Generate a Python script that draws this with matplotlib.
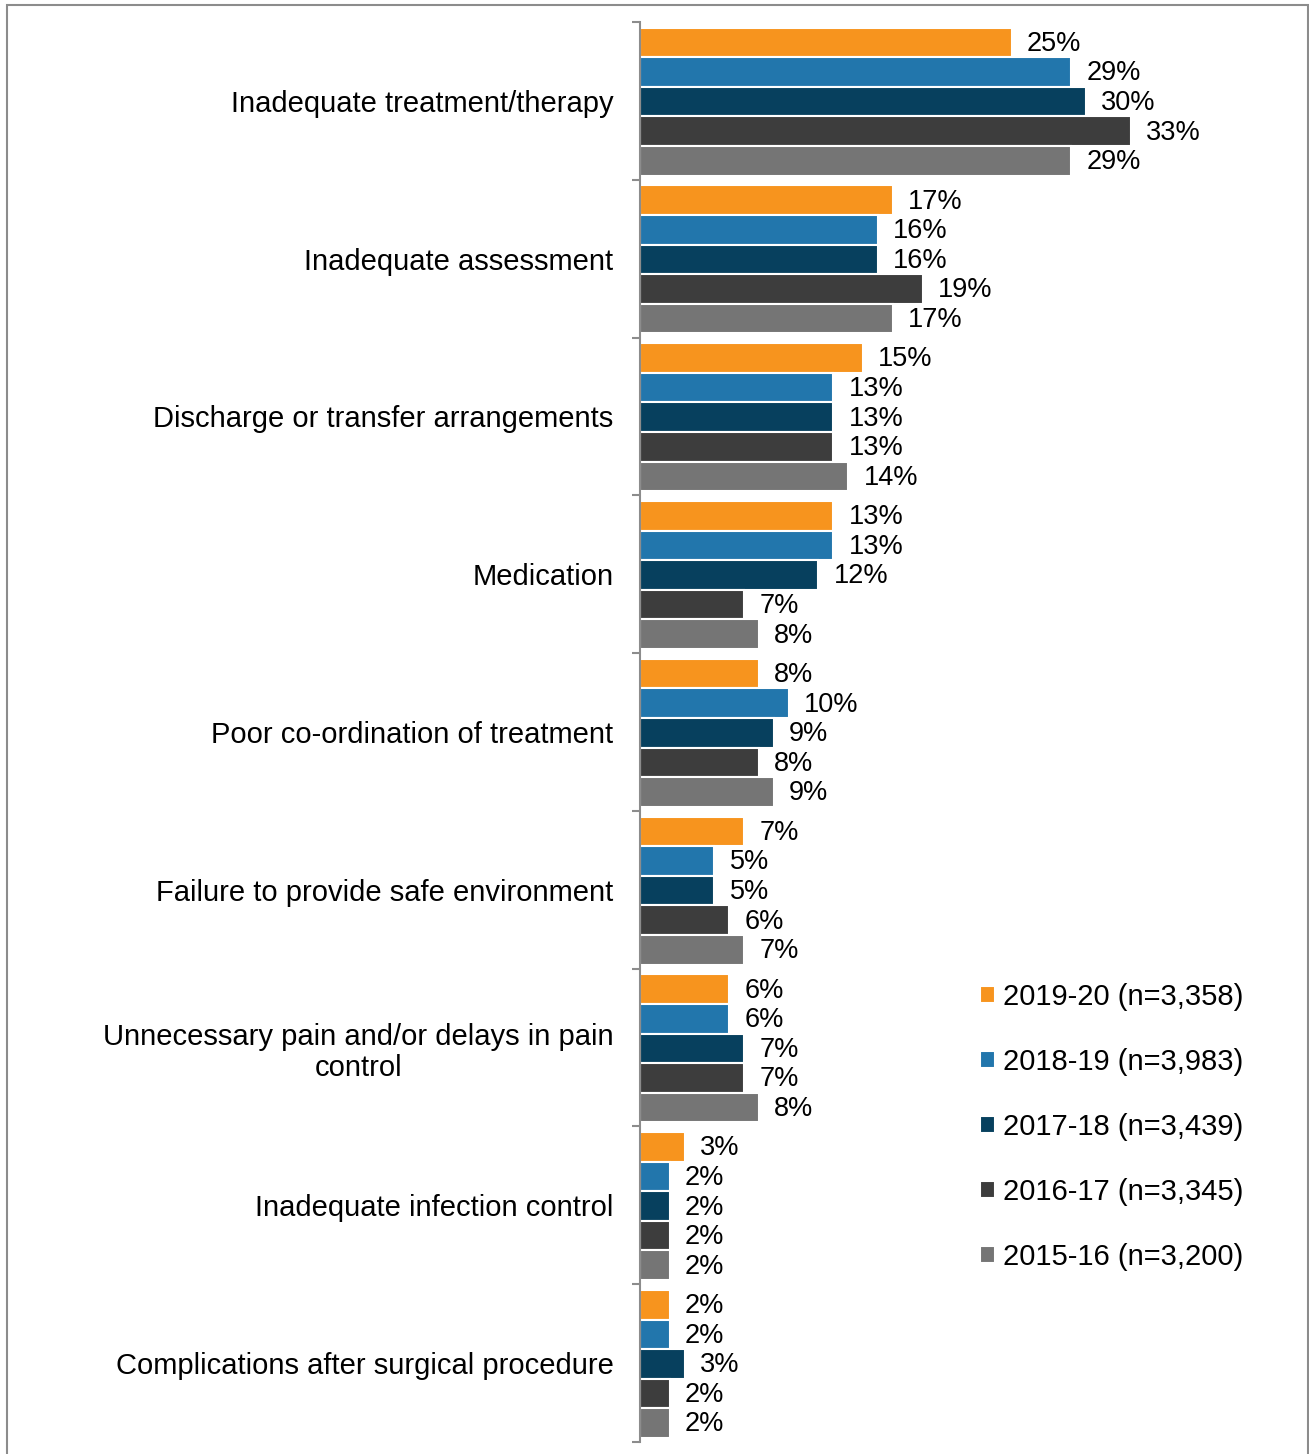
import matplotlib.pyplot as plt
import numpy as np
from matplotlib.patches import Rectangle

plt.rcParams['font.family'] = ['Liberation Sans', 'DejaVu Sans']

categories = ["Inadequate treatment/therapy", "Inadequate assessment",
              "Discharge or transfer arrangements", "Medication",
              "Poor co-ordination of treatment", "Failure to provide safe environment",
              "Unnecessary pain and/or delays in pain\ncontrol",
              "Inadequate infection control", "Complications after surgical procedure"]
series_names = ["2019-20 (n=3,358)", "2018-19 (n=3,983)", "2017-18 (n=3,439)",
                "2016-17 (n=3,345)", "2015-16 (n=3,200)"]
v2019 = [25, 17, 15, 13, 8, 7, 6, 3, 2]
v2018 = [29, 16, 13, 13, 10, 5, 6, 2, 2]
v2017 = [30, 16, 13, 12, 9, 5, 7, 2, 3]
v2016 = [33, 19, 13, 7, 8, 6, 7, 2, 2]
v2015 = [29, 17, 14, 8, 9, 7, 8, 2, 2]
series = [v2019, v2018, v2017, v2016, v2015]
colors = ["#F7941E", "#2276AC", "#07405E", "#3D3D3D", "#757575"]

W, H = 1309, 1454
fig = plt.figure(figsize=(W / 100, H / 100), dpi=100)
ax = fig.add_axes([640 / W, 1 - 1442 / H, (1300 - 640) / W, (1442 - 22) / H])

y = np.arange(len(categories))
w = 0.1875
for j, (vals, c, name) in enumerate(zip(series, colors, series_names)):
    pos = y + (j - 2) * w + 0.005
    bars = ax.barh(pos, vals, height=w, color=c, edgecolor="white", linewidth=1.5, label=name)
    for b, v in zip(bars, vals):
        ax.annotate(f"{v}%", (b.get_width(), b.get_y() + b.get_height() / 2),
                    xytext=(11, -1), textcoords="offset points",
                    ha="left", va="center", fontsize=19.5)

ax.set_xlim(0, (1300 - 640) / 14.87)
ax.set_ylim(len(categories) - 0.5, -0.5)

for s in ["top", "right", "bottom"]:
    ax.spines[s].set_visible(False)
ax.spines["left"].set_color("#8C8C8C")
ax.spines["left"].set_linewidth(1.5)
ax.set_xticks([])

ax.set_yticks(y)
ax.set_yticklabels(categories, fontsize=21)
ax.tick_params(axis="y", which="major", length=0, pad=19)
for lab in ax.get_yticklabels():
    lab.set_multialignment("center")
    lab.set_linespacing(1.15)
    lab.set_y(lab.get_position()[1])
ax.set_yticks(np.arange(-0.5, len(categories), 1), minor=True)
ax.tick_params(axis="y", which="minor", length=6, width=1.5, color="#8C8C8C")

fig.legend(loc="upper left", bbox_to_anchor=(980 / W, 1 - 983 / H),
           frameon=False, fontsize=21, handlelength=0.52, handleheight=0.52,
           handletextpad=0.28, labelspacing=1.27, borderpad=0, borderaxespad=0)

fig.add_artist(Rectangle((7 / W, -0.01), (1308 - 7) / W, 1 - 5 / H + 0.01,
                         transform=fig.transFigure, fill=False,
                         edgecolor="#8C8C8C", linewidth=1.5))

fig.savefig("out.png", dpi=100)
